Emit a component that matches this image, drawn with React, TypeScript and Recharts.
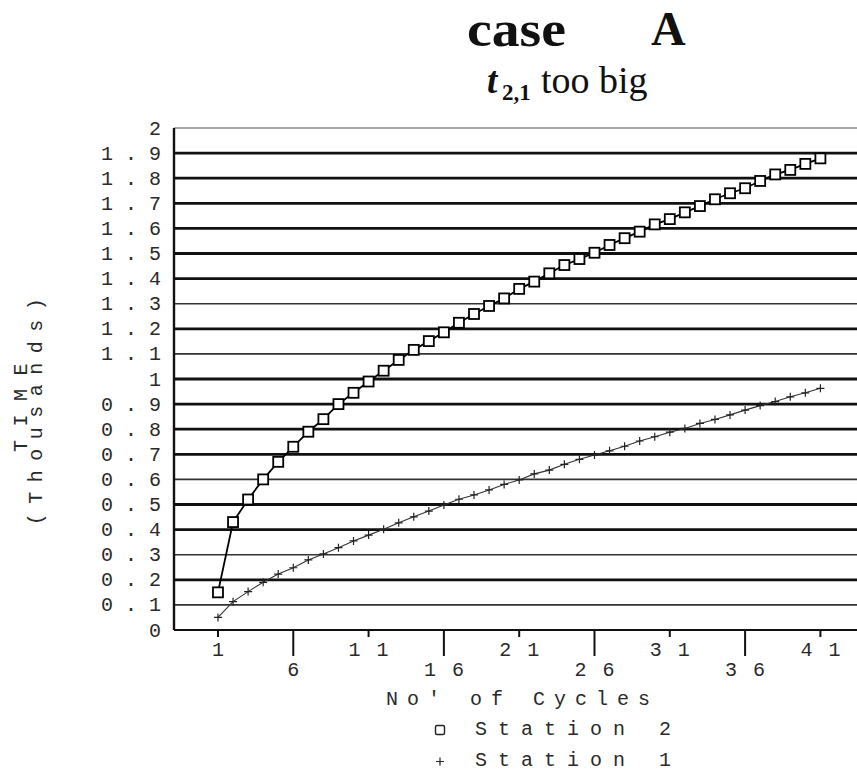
import { LineChart, Line, XAxis, YAxis, ReferenceLine, Legend, Label } from 'recharts'

const CYCLES = [
  1, 2, 3, 4, 5, 6, 7, 8, 9, 10, 11, 12, 13, 14, 15, 16, 17, 18, 19, 20, 21,
  22, 23, 24, 25, 26, 27, 28, 29, 30, 31, 32, 33, 34, 35, 36, 37, 38, 39, 40, 41,
]

// time in thousands
const STATION_2 = [
  0.15, 0.43, 0.52, 0.6, 0.67, 0.73, 0.79, 0.84, 0.9, 0.945, 0.99, 1.033,
  1.076, 1.116, 1.151, 1.186, 1.224, 1.259, 1.291, 1.321, 1.359, 1.388, 1.421,
  1.454, 1.478, 1.503, 1.534, 1.561, 1.587, 1.616, 1.637, 1.664, 1.689, 1.716,
  1.74, 1.76, 1.789, 1.815, 1.833, 1.857, 1.879,
]

const STATION_1 = [
  0.05, 0.113, 0.153, 0.19, 0.223, 0.248, 0.279, 0.303, 0.328, 0.355, 0.378,
  0.401, 0.427, 0.451, 0.474, 0.498, 0.521, 0.538, 0.558, 0.58, 0.598, 0.622,
  0.637, 0.66, 0.68, 0.697, 0.714, 0.732, 0.753, 0.77, 0.788, 0.803, 0.823,
  0.839, 0.857, 0.876, 0.894, 0.91, 0.929, 0.945, 0.963,
]

const X_TICKS = [1, 6, 11, 16, 21, 26, 31, 36, 41]
const Y_TICKS = [
  0, 0.1, 0.2, 0.3, 0.4, 0.5, 0.6, 0.7, 0.8, 0.9, 1, 1.1, 1.2, 1.3, 1.4, 1.5,
  1.6, 1.7, 1.8, 1.9, 2,
]
// grid rows that come out lighter in the scan
const THIN_ROWS = [2, 1.3, 1.1, 0.6, 0.3, 0.1]

const data = CYCLES.map((c, i) => ({
  cycle: c,
  station2: STATION_2[i],
  station1: STATION_1[i],
}))

const MONO = '"Liberation Mono", "DejaVu Sans Mono", monospace'
const SERIF = '"Liberation Serif", "DejaVu Serif", serif'
const INK = '#2a2a2a'

function TimeTick({ x, y, payload }: any) {
  return (
    <text
      x={x - 1}
      y={y + 6.5}
      textAnchor='end'
      fontFamily={MONO}
      fontSize={20}
      letterSpacing={12}
      fill={INK}
    >
      {String(payload.value)}
    </text>
  )
}

function CycleTick({ x, y, payload }: any) {
  const low = X_TICKS.indexOf(payload.value) % 2 === 1
  return (
    <g>
      <line x1={x} x2={x} y1={y} y2={y + (low ? 26 : 7)} stroke='#111' strokeWidth={2} />
      <text
        x={x + 8}
        y={y + (low ? 46 : 26)}
        textAnchor='middle'
        fontFamily={MONO}
        fontSize={20}
        letterSpacing={16}
        fill={INK}
      >
        {String(payload.value)}
      </text>
    </g>
  )
}

function SquareDot({ cx, cy, index }: any) {
  return (
    <rect
      key={`sq-${index}`}
      x={cx - 5}
      y={cy - 5}
      width={10}
      height={10}
      fill='#fff'
      stroke='#000'
      strokeWidth={1.8}
    />
  )
}

function PlusDot({ cx, cy, index }: any) {
  return (
    <path
      key={`pl-${index}`}
      d={`M${cx - 4},${cy}H${cx + 4}M${cx},${cy - 4}V${cy + 4}`}
      stroke='#222'
      strokeWidth={1.2}
    />
  )
}

function YLabel() {
  return (
    <g fontFamily={MONO} fill={INK}>
      <text
        x={27}
        y={401}
        transform='rotate(-90 27 401)'
        textAnchor='middle'
        fontSize={20}
        letterSpacing={13.5}
      >
        TIME
      </text>
      <text
        x={42}
        y={407}
        transform='rotate(-90 42 407)'
        textAnchor='middle'
        fontSize={20}
        letterSpacing={9.5}
      >
        (Thousands)
      </text>
    </g>
  )
}

function LegendBox() {
  return (
    <svg width={857} height={72} style={{ display: 'block' }}>
      <rect x={435.5} y={25.5} width={9} height={9} rx={1.5} fill='#fff' stroke='#222' strokeWidth={1.4} />
      <text x={475} y={35} fontFamily={MONO} fontSize={20} letterSpacing={11} fill={INK}>
        Station 2
      </text>
      <path d='M436,61.5H444M440,57.5V65.5' stroke='#222' strokeWidth={1.2} />
      <text x={475} y={66} fontFamily={MONO} fontSize={20} letterSpacing={11} fill={INK}>
        Station 1
      </text>
    </svg>
  )
}

export default function App() {
  return (
    <div style={{ position: 'relative', width: 857, height: 772, background: '#fff' }}>
      <style>{'body{margin:0;overflow:hidden}'}</style>
      <svg
        width={857}
        height={120}
        style={{ position: 'absolute', left: 0, top: 0 }}
      >
        <text x={467} y={45.5} fontFamily={SERIF} fontWeight='bold' fontSize={51} textLength={99} lengthAdjust='spacingAndGlyphs' fill='#111'>
          case
        </text>
        <text x={651} y={45} fontFamily={SERIF} fontWeight='bold' fontSize={48} fill='#111'>
          A
        </text>
        <text x={487} y={93} fontFamily={SERIF} fontWeight='bold' fontStyle='italic' fontSize={37} fill='#111'>
          t
        </text>
        <text x={502} y={100} fontFamily={SERIF} fontWeight='bold' fontSize={23} fill='#111'>
          2,1
        </text>
        <text x={541} y={93} fontFamily={SERIF} fontSize={38} fill='#111'>
          too big
        </text>
      </svg>
      <LineChart
        width={857}
        height={772}
        data={data}
        margin={{ top: 128, right: 0, bottom: 0, left: 0 }}
      >
        <XAxis
          dataKey='cycle'
          type='number'
          domain={[-1.92, 43.43]}
          allowDataOverflow
          ticks={X_TICKS}
          interval={0}
          height={142}
          tickLine={false}
          tickSize={0}
          tickMargin={0}
          axisLine={{ stroke: '#111', strokeWidth: 2 }}
          tick={<CycleTick />}
        >
          <Label
            content={() => (
              <text x={386} y={705} fontFamily={MONO} fontSize={20} letterSpacing={9} fill={INK}>
                No' of Cycles
              </text>
            )}
          />
        </XAxis>
        <YAxis
          type='number'
          domain={[0, 2]}
          ticks={Y_TICKS}
          interval={0}
          width={174}
          tickLine={false}
          tickSize={0}
          tickMargin={0}
          axisLine={{ stroke: '#111', strokeWidth: 2.4 }}
          tick={<TimeTick />}
        >
          <Label content={() => <YLabel />} />
        </YAxis>
        {Y_TICKS.filter(v => v > 0).map(v => (
          <ReferenceLine
            key={v}
            y={v}
            stroke={v === 2 ? '#888' : THIN_ROWS.includes(v) ? '#333' : '#111'}
            strokeWidth={v === 2 ? 1.4 : THIN_ROWS.includes(v) ? 1.6 : 2.8}
          />
        ))}
        <Line
          dataKey='station1'
          name='Station 1'
          stroke='#333'
          strokeWidth={1.1}
          dot={<PlusDot />}
          activeDot={false}
          isAnimationActive={false}
        />
        <Line
          dataKey='station2'
          name='Station 2'
          stroke='#000'
          strokeWidth={1.8}
          dot={<SquareDot />}
          activeDot={false}
          isAnimationActive={false}
        />
        <Legend
          layout='horizontal'
          align='center'
          verticalAlign='middle'
          wrapperStyle={{ position: 'absolute', left: 0, top: 700, width: 857, height: 72 }}
          content={() => <LegendBox />}
        />
      </LineChart>
    </div>
  )
}
